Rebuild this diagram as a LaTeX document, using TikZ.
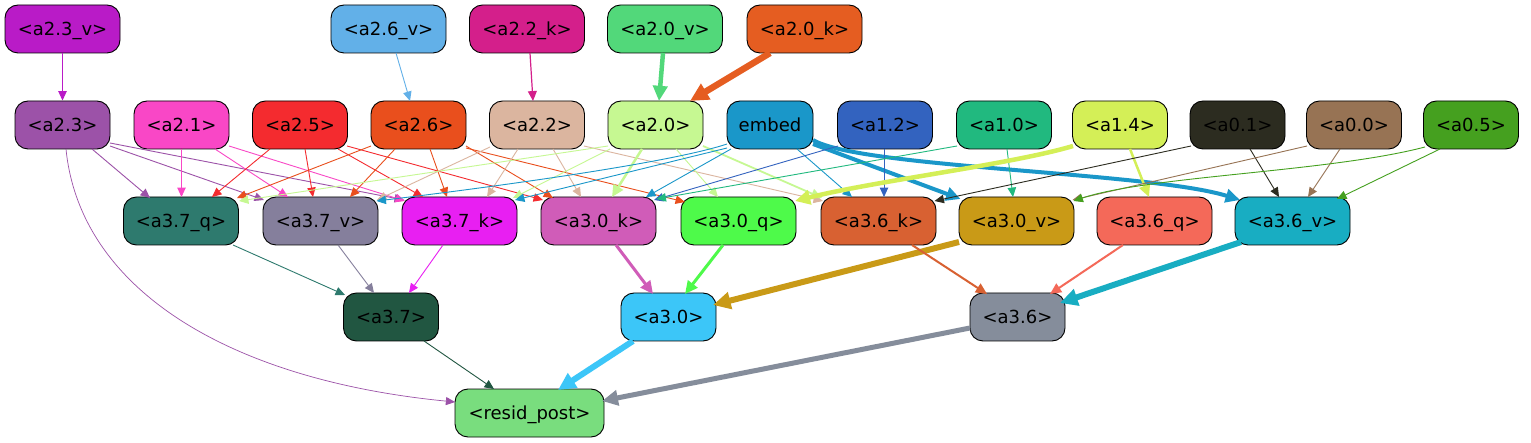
\documentclass[tikz,border=0pt]{standalone}
\usepackage{fontspec}
\setmainfont{DejaVu Sans}
\usetikzlibrary{arrows.meta}
\definecolor{cA23v}{HTML}{B91BC7}
\definecolor{cA26v}{HTML}{62B0E8}
\definecolor{cA22k}{HTML}{D41F8B}
\definecolor{cA20v}{HTML}{52D87A}
\definecolor{cA20k}{HTML}{E55D21}
\definecolor{cA23}{HTML}{9C52A8}
\definecolor{cA21}{HTML}{F947C6}
\definecolor{cA25}{HTML}{F42B2F}
\definecolor{cA26}{HTML}{E94F1D}
\definecolor{cA22}{HTML}{DBB59F}
\definecolor{cA20}{HTML}{C6F892}
\definecolor{cEmb}{HTML}{1A97C9}
\definecolor{cA12}{HTML}{3363BF}
\definecolor{cA10}{HTML}{21B97F}
\definecolor{cA14}{HTML}{D4EF57}
\definecolor{cA01}{HTML}{2C2C20}
\definecolor{cA00}{HTML}{977354}
\definecolor{cA05}{HTML}{45A01F}
\definecolor{cB7q}{HTML}{2E7A6E}
\definecolor{cB7v}{HTML}{857F9C}
\definecolor{cB7k}{HTML}{E81FF2}
\definecolor{cB0k}{HTML}{D05CB8}
\definecolor{cB0q}{HTML}{4EFA4A}
\definecolor{cB6k}{HTML}{D86132}
\definecolor{cB0v}{HTML}{C99A17}
\definecolor{cB6q}{HTML}{F46959}
\definecolor{cB6v}{HTML}{18ADC2}
\definecolor{cB7}{HTML}{215641}
\definecolor{cB0}{HTML}{3CC6F8}
\definecolor{cB6}{HTML}{858D9B}
\definecolor{cRes}{HTML}{79DD7E}
\begin{document}
\begin{tikzpicture}[x=1pt,y=-1pt,
  nd/.style={draw=black,line width=0.9pt,rounded corners=13pt,minimum height=48pt,inner sep=0pt,text height=15pt,text depth=2pt,font=\fontsize{18pt}{21pt}\selectfont},
  wa/.style={nd,minimum width=115pt},
  wb/.style={nd,minimum width=95pt},
  ed/.style={-{Triangle[length=8pt 1.6,width=7pt 1.6]},line width=#1},
  ed/.default=0.9pt]
\fill[white] (0,0) rectangle (1531,443);
\useasboundingbox (0,0) rectangle (1531,443);
% row 0
\node[wa,fill=cA23v] (a23v) at (62.5,29) {<a2.3\_v>};
\node[wa,fill=cA26v] (a26v) at (388.5,29) {<a2.6\_v>};
\node[wa,fill=cA22k] (a22k) at (527,29) {<a2.2\_k>};
\node[wa,fill=cA20v] (a20v) at (665,29) {<a2.0\_v>};
\node[wa,fill=cA20k] (a20k) at (804.5,29) {<a2.0\_k>};
% row 1
\node[wb,fill=cA23] (a23) at (62.5,125) {<a2.3>};
\node[wb,fill=cA21] (a21) at (181.5,125) {<a2.1>};
\node[wb,fill=cA25] (a25) at (300,125) {<a2.5>};
\node[wb,fill=cA26] (a26) at (418.5,125) {<a2.6>};
\node[wb,fill=cA22] (a22) at (537,125) {<a2.2>};
\node[wb,fill=cA20] (a20) at (655.5,125) {<a2.0>};
\node[nd,minimum width=86pt,fill=cEmb] (emb) at (770,125) {embed};
\node[wb,fill=cA12] (a12) at (885,125) {<a1.2>};
\node[wb,fill=cA10] (a10) at (1004,125) {<a1.0>};
\node[wb,fill=cA14] (a14) at (1120,125) {<a1.4>};
\node[wb,fill=cA01] (a01) at (1237.5,125) {<a0.1>};
\node[wb,fill=cA00] (a00) at (1354,125) {<a0.0>};
\node[wb,fill=cA05] (a05) at (1471,125) {<a0.5>};
% row 2
\node[wa,fill=cB7q] (b7q) at (181,221) {<a3.7\_q>};
\node[wa,fill=cB7v] (b7v) at (320.5,221) {<a3.7\_v>};
\node[wa,fill=cB7k] (b7k) at (459.5,221) {<a3.7\_k>};
\node[wa,fill=cB0k] (b0k) at (598.5,221) {<a3.0\_k>};
\node[wa,fill=cB0q] (b0q) at (738.5,221) {<a3.0\_q>};
\node[wa,fill=cB6k] (b6k) at (878.5,221) {<a3.6\_k>};
\node[wa,fill=cB0v] (b0v) at (1016.5,221) {<a3.0\_v>};
\node[wa,fill=cB6q] (b6q) at (1154.5,221) {<a3.6\_q>};
\node[wa,fill=cB6v] (b6v) at (1292.5,221) {<a3.6\_v>};
% row 3
\node[wb,fill=cB7] (b7) at (391,317) {<a3.7>};
\node[wb,fill=cB0] (b0) at (668.5,317) {<a3.0>};
\node[wb,fill=cB6] (b6) at (1017.5,317) {<a3.6>};
% row 4
\node[nd,minimum width=149pt,fill=cRes] (res) at (529.5,413) {<resid\_post>};
% edges row0 -> row1
\draw[ed,cA23v] (a23v.south) -- (a23.north);
\draw[ed,cA26v] ([shift={(7.5,24)}]a26v.center) -- ([shift={(-8.5,-24)}]a26.center);
\draw[ed=1.2pt,cA22k] ([shift={(3,24)}]a22k.center) -- ([shift={(-4,-24)}]a22.center);
\draw[ed=4.5pt,cA20v] ([shift={(-2,24)}]a20v.center) -- ([shift={(3.5,-24)}]a20.center);
\draw[ed=6.5pt,cA20k] ([shift={(-34.5,24)}]a20k.center) -- ([shift={(34.5,-24)}]a20.center);
% a2.3
\draw[ed,cA23] ([shift={(29.5,24)}]a23.center) -- ([shift={(-31,-23)}]b7q.center);
\draw[ed,cA23] ([shift={(47.5,21)}]a23.center) -- ([shift={(-56.5,-21)}]b7v.center);
\draw[ed,cA23] ([shift={(47.5,18)}]a23.center) -- ([shift={(-55.5,-21)}]b7k.center);
\draw[ed=0.7pt,cA23] ([shift={(3.5,24)}]a23.center) .. controls +(14,141) and +(-225,-22) .. ([shift={(-74.5,-11)}]res.center);
% a2.1
\draw[ed,cA21] (a21.south) -- ([shift={(0.5,-24)}]b7q.center);
\draw[ed,cA21] ([shift={(33.5,24)}]a21.center) -- ([shift={(-32.5,-24)}]b7v.center);
\draw[ed,cA21] ([shift={(47.5,21)}]a21.center) -- ([shift={(-54.5,-20)}]b7k.center);
% a2.5
\draw[ed,cA25] ([shift={(-30,24)}]a25.center) -- ([shift={(31,-24)}]b7q.center);
\draw[ed,cA25] ([shift={(5,24)}]a25.center) -- ([shift={(-7.5,-24)}]b7v.center);
\draw[ed,cA25] ([shift={(38,24)}]a25.center) -- ([shift={(-36.5,-24)}]b7k.center);
\draw[ed,cA25] ([shift={(47,21)}]a25.center) -- ([shift={(-55.5,-21)}]b0k.center);
% a2.6
\draw[ed,cA26] ([shift={(-47.5,21)}]a26.center) -- ([shift={(56,-23)}]b7q.center);
\draw[ed,cA26] ([shift={(-23.5,24)}]a26.center) -- ([shift={(29.5,-24)}]b7v.center);
\draw[ed,cA26] ([shift={(11.5,24)}]a26.center) -- ([shift={(-12.5,-24)}]b7k.center);
\draw[ed,cA26] ([shift={(47.5,21)}]a26.center) -- ([shift={(-45.5,-23)}]b0k.center);
\draw[ed,cA26] ([shift={(47.5,23)}]a26.center) -- ([shift={(-53.5,-19)}]b0q.center);
% a2.2
\draw[ed,cA22] ([shift={(-47,22)}]a22.center) -- ([shift={(56.5,-21)}]b7v.center);
\draw[ed,cA22] ([shift={(-19,24)}]a22.center) -- ([shift={(27.5,-24)}]b7k.center);
\draw[ed,cA22] ([shift={(16,24)}]a22.center) -- ([shift={(-17.5,-24)}]b0k.center);
\draw[ed,cA22] ([shift={(47,21)}]a22.center) -- ([shift={(-55.5,-20)}]b6k.center);
% a2.0
\draw[ed,cA20] ([shift={(-47.5,21)}]a20.center) -- ([shift={(58,-20)}]b7q.center);
\draw[ed,cA20] ([shift={(-45.5,24)}]a20.center) -- ([shift={(53.5,-23)}]b7k.center);
\draw[ed=2.5pt,cA20] ([shift={(-13.5,24)}]a20.center) -- ([shift={(13.5,-24)}]b0k.center);
\draw[ed,cA20] ([shift={(20.5,24)}]a20.center) -- ([shift={(-20.5,-24)}]b0q.center);
\draw[ed=1.8pt,cA20] ([shift={(47.5,21)}]a20.center) -- ([shift={(-56.5,-23)}]b6k.center);
% embed
\draw[ed,cEmb] ([shift={(-43,19)}]emb.center) .. controls +(-60,20) and +(100,-12) .. ([shift={(56,-20)}]b7v.center);
\draw[ed,cEmb] ([shift={(-43,23)}]emb.center) -- ([shift={(55.5,-21)}]b7k.center);
\draw[ed,cEmb] ([shift={(-39,24)}]emb.center) -- ([shift={(47.5,-24)}]b0k.center);
\draw[ed,cEmb] ([shift={(27,24)}]emb.center) -- ([shift={(-26.5,-24)}]b6k.center);
\draw[ed=4pt,cEmb] ([shift={(43,19)}]emb.center) -- ([shift={(-56,-22)}]b0v.center);
\draw[ed=4pt,cEmb] ([shift={(43,15)}]emb.center) .. controls +(47,28) and +(-90,-28) .. ([shift={(-52.5,-21)}]b6v.center);
% a1.2, a1.0
\draw[ed,cA12] ([shift={(-47,21)}]a12.center) -- ([shift={(55.5,-21)}]b0k.center);
\draw[ed,cA12] ([shift={(-1,24)}]a12.center) -- ([shift={(5.5,-24)}]b6k.center);
\draw[ed,cA10] ([shift={(-47,21)}]a10.center) -- ([shift={(58,-22)}]b0k.center);
\draw[ed,cA10] ([shift={(3,24)}]a10.center) -- ([shift={(-3.5,-24)}]b0v.center);
% a1.4
\draw[ed=4.5pt,cA14] ([shift={(-47,21)}]a14.center) .. controls +(-60,18) and +(80,-20) .. ([shift={(56.5,-20)}]b0q.center);
\draw[ed=2.5pt,cA14] ([shift={(10,24)}]a14.center) -- ([shift={(-5.5,-24)}]b6q.center);
% a0.1, a0.0, a0.5
\draw[ed,cA01] ([shift={(-46.5,21)}]a01.center) -- ([shift={(56,-20)}]b6k.center);
\draw[ed,cA01] ([shift={(12.5,24)}]a01.center) -- ([shift={(-13.5,-24)}]b6v.center);
\draw[ed,cA00] ([shift={(-47,21)}]a00.center) -- ([shift={(56,-21)}]b0v.center);
\draw[ed,cA00] ([shift={(-14,24)}]a00.center) -- ([shift={(15.5,-24)}]b6v.center);
\draw[ed,cA05] ([shift={(-46,22)}]a05.center) .. controls +(-95,25) and +(74,-25) .. ([shift={(57,-20)}]b0v.center);
\draw[ed,cA05] ([shift={(-31,24)}]a05.center) -- ([shift={(44.5,-22)}]b6v.center);
% row2 -> row3
\draw[ed,cB7q] ([shift={(52,24)}]b7q.center) -- ([shift={(-46,-22)}]b7.center);
\draw[ed,cB7v] ([shift={(17.5,24)}]b7v.center) -- ([shift={(-17,-24)}]b7.center);
\draw[ed,cB7k] ([shift={(-16.5,24)}]b7k.center) -- ([shift={(18,-24)}]b7.center);
\draw[ed=3pt,cB0k] ([shift={(17.5,24)}]b0k.center) -- ([shift={(-15.5,-23)}]b0.center);
\draw[ed=3pt,cB0q] ([shift={(-15.5,24)}]b0q.center) -- ([shift={(16.5,-23)}]b0.center);
\draw[ed=6pt,cB0v] ([shift={(-57.5,21)}]b0v.center) -- ([shift={(44.5,-12)}]b0.center);
\draw[ed=2pt,cB6k] ([shift={(33.5,24)}]b6k.center) -- ([shift={(-30.5,-23)}]b6.center);
\draw[ed=2pt,cB6q] ([shift={(-31.5,24)}]b6q.center) -- ([shift={(32.5,-23)}]b6.center);
\draw[ed=6pt,cB6v] ([shift={(-51.5,21)}]b6v.center) -- ([shift={(42.5,-14)}]b6.center);
% row3 -> resid
\draw[ed,cB7] ([shift={(33,24)}]b7.center) -- ([shift={(-35.5,-24)}]res.center);
\draw[ed=6pt,cB0] ([shift={(-35.5,24)}]b0.center) -- ([shift={(28.5,-23)}]res.center);
\draw[ed=5pt,cB6] ([shift={(-47.5,11)}]b6.center) -- ([shift={(72.5,-12)}]res.center);
\end{tikzpicture}
\end{document}
